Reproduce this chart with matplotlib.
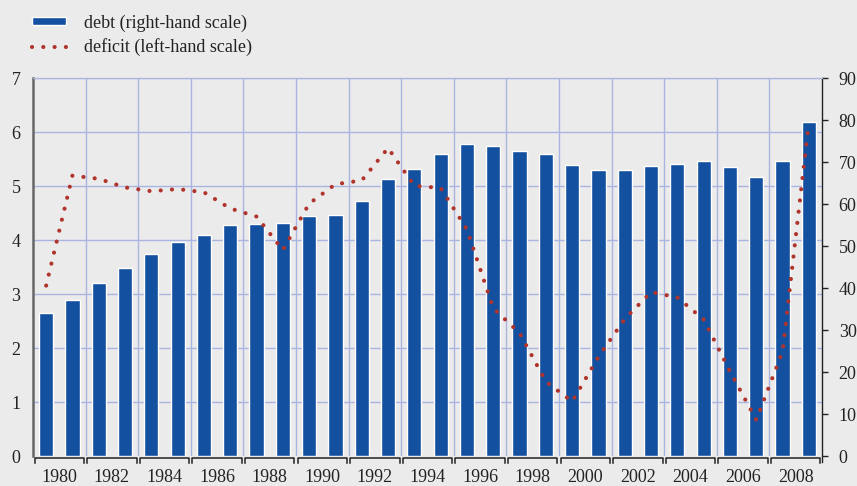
import matplotlib
matplotlib.use("Agg")
import matplotlib.pyplot as plt
from matplotlib.patches import Patch
from matplotlib.lines import Line2D
import matplotlib.transforms as mtransforms

years = list(range(1980, 2010))
debt = [34.0, 37.2, 41.2, 44.8, 48.1, 51.0, 52.6, 55.0, 55.3, 55.5,
        57.1, 57.4, 60.7, 66.1, 68.5, 71.9, 74.3, 74.0, 72.8, 71.9,
        69.4, 68.3, 68.1, 69.2, 69.6, 70.3, 68.8, 66.5, 70.3, 79.7]
deficit = [3.16, 5.20, 5.14, 4.98, 4.91, 4.95, 4.89, 4.59, 4.44, 3.82,
           4.68, 5.04, 5.11, 5.71, 5.01, 4.97, 4.20, 2.74, 2.28, 1.38,
           1.01, 1.84, 2.54, 3.04, 2.94, 2.53, 1.57, 0.67, 1.94, 6.19]
label_years = list(range(1980, 2010, 2))
left_ticks = [0, 1, 2, 3, 4, 5, 6, 7]
right_ticks = [0, 10, 20, 30, 40, 50, 60, 70, 80, 90]

BG = "#ebebeb"
BAR = "#1450a0"
RED = "#b0342c"
GRID = "#aab4e1"
INK = "#222222"
DOTS = (0, (0.01, 2.7))

plt.rcParams["font.family"] = ["Liberation Serif", "DejaVu Serif"]

fig = plt.figure(figsize=(8.57, 4.86), dpi=100, facecolor=BG)
ax = fig.add_axes([0.0385, 0.0617, 0.9207, 0.7768])
ax2 = ax.twinx()

# bars on right scale
ax2.bar(years, debt, width=0.54, color=BAR, edgecolor="white", linewidth=1.0, zorder=2)
ax2.set_ylim(0, 90)
ax2.set_yticks(right_ticks)

ax.set_ylim(0, 7)
ax.set_yticks(left_ticks)
ax.set_xlim(1979.5, 2009.5)
ax.set_xticks([])

# line axis on top of bar axis
ax.set_zorder(ax2.get_zorder() + 1)
ax.patch.set_visible(False)
ax2.patch.set_visible(True)
ax2.patch.set_facecolor(BG)

# grid (left-scale horizontals) drawn beneath bars
for v in left_ticks[1:]:
    ax2.axhline(v * 90 / 7, color=GRID, linewidth=1.0, zorder=0)
for b in range(1981, 2009, 2):
    ax2.axvline(b + 0.5, color=GRID, linewidth=1.0, zorder=0)

ax.plot(years, deficit, color=RED, linewidth=3.0, linestyle=DOTS,
        dash_capstyle="round", zorder=3)

# spines
for a in (ax, ax2):
    a.spines["bottom"].set_visible(False)
    a.spines["top"].set_color(GRID)
ax.spines["left"].set_color("#666666")
ax.spines["left"].set_linewidth(1.8)
ax.spines["right"].set_visible(False)
ax2.spines["left"].set_visible(False)
ax2.spines["right"].set_color(INK)
ax2.spines["right"].set_linewidth(1.0)
ax2.spines["right"].set_bounds(-6 / 377 * 90, 90)

ax.tick_params(axis="y", length=0, pad=9, labelsize=13, labelcolor=INK)
ax2.tick_params(axis="y", direction="out", length=4, width=1.0, color=INK,
                pad=8, labelsize=13, labelcolor=INK)
ax2.tick_params(axis="x", length=0)

# x labels with brackets
btr = mtransforms.blended_transform_factory(ax.transData, ax.transAxes)
dy = 7 / 377
for y0 in label_years:
    x0 = y0 - 0.5 + 0.06
    x1 = y0 + 1.5 - 0.06
    ax.plot([x0, x0, x1, x1], [-dy, -0.004, -0.004, -dy], color=INK,
            linewidth=1.1, transform=btr, clip_on=False, zorder=5)
    ax.text(y0 + 0.5, -0.035, str(y0), transform=btr, ha="center", va="top",
            fontsize=13, color=INK)

handles = [Patch(facecolor=BAR, edgecolor="white", linewidth=1.0),
           Line2D([0], [0], color=RED, linewidth=3.0, linestyle=DOTS,
                  dash_capstyle="round")]
labels = ["debt (right-hand scale)", "deficit (left-hand scale)"]
fig.legend(handles, labels, loc="upper left", bbox_to_anchor=(0.029, 0.985),
           frameon=False, fontsize=13, handlelength=1.9, handleheight=0.33,
           handletextpad=0.95, labelspacing=0.35, borderaxespad=0.0,
           labelcolor=INK)

fig.savefig("out.png", dpi=100, facecolor=BG)
